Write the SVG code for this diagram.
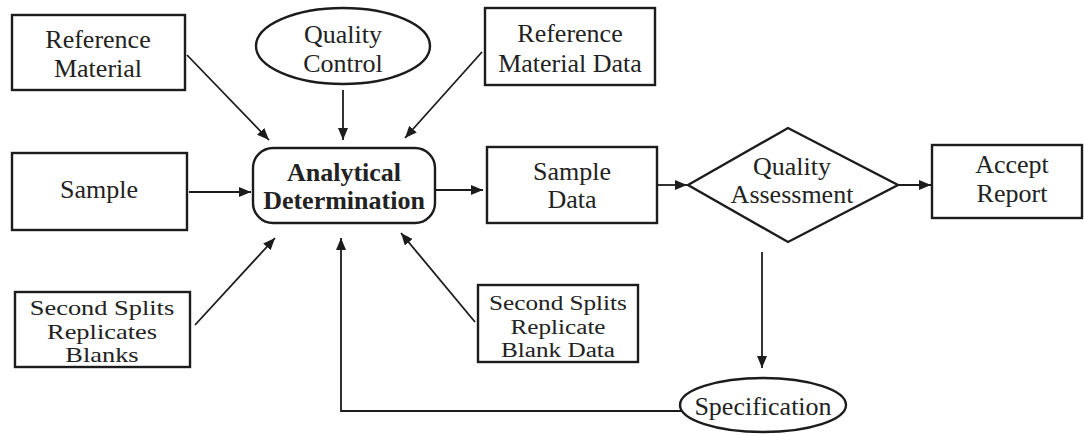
<svg xmlns="http://www.w3.org/2000/svg" width="1084" height="434" viewBox="0 0 1084 434">
  <style>
    .box { fill: #ffffff; stroke: #1c1c1c; stroke-width: 2.4; }
    .lbl { font-family: "Liberation Serif", "Times New Roman", serif; font-size: 26px; fill: #222222; text-anchor: middle; }
    .small { font-size: 24px; }
    .bold { font-weight: bold; }
    .wire { fill: none; stroke: #1c1c1c; stroke-width: 1.8; }
  </style>
  <defs>
    <marker id="arrow" viewBox="0 0 12 10" refX="12" refY="5" markerWidth="12" markerHeight="10" markerUnits="userSpaceOnUse" orient="auto">
      <path d="M0,0 L12,5 L0,10 Z" fill="#1c1c1c"/>
    </marker>
  </defs>
  <rect width="1084" height="434" fill="#ffffff"/>

  <!-- connectors -->
  <g id="connectors">
    <line class="wire" x1="187" y1="55" x2="269" y2="140" marker-end="url(#arrow)"/>
    <line class="wire" x1="343" y1="90" x2="343" y2="140" marker-end="url(#arrow)"/>
    <line class="wire" x1="482" y1="52" x2="405" y2="138" marker-end="url(#arrow)"/>
    <line class="wire" x1="189" y1="192" x2="251" y2="192" marker-end="url(#arrow)"/>
    <line class="wire" x1="436" y1="190" x2="483" y2="190" marker-end="url(#arrow)"/>
    <line class="wire" x1="658" y1="185" x2="687" y2="185" marker-end="url(#arrow)"/>
    <line class="wire" x1="898" y1="185" x2="931" y2="185" marker-end="url(#arrow)"/>
    <line class="wire" x1="762" y1="252" x2="762" y2="368" marker-end="url(#arrow)"/>
    <polyline class="wire" points="681,411 341,411 341,238" marker-end="url(#arrow)"/>
    <line class="wire" x1="195" y1="325" x2="275" y2="238" marker-end="url(#arrow)"/>
    <line class="wire" x1="475" y1="322" x2="401" y2="233" marker-end="url(#arrow)"/>
  </g>

  <g id="reference-material">
    <rect class="box" x="12" y="15" width="173" height="75"/>
    <text class="lbl" x="98" y="48">Reference</text>
    <text class="lbl" x="98" y="77">Material</text>
  </g>

  <g id="quality-control">
    <ellipse class="box" cx="343" cy="46" rx="87" ry="38"/>
    <text class="lbl" x="343" y="43">Quality</text>
    <text class="lbl" x="343" y="72">Control</text>
  </g>

  <g id="reference-material-data">
    <rect class="box" x="485" y="8" width="170" height="77"/>
    <text class="lbl" x="570" y="42">Reference</text>
    <text class="lbl" x="570" y="72">Material Data</text>
  </g>

  <g id="sample">
    <rect class="box" x="12" y="153" width="175" height="77"/>
    <text class="lbl" x="99" y="198">Sample</text>
  </g>

  <g id="analytical-determination">
    <rect class="box" x="253" y="148" width="182" height="75" rx="20" ry="20"/>
    <text class="lbl bold" x="344" y="181">Analytical</text>
    <text class="lbl bold" x="344" y="209">Determination</text>
  </g>

  <g id="sample-data">
    <rect class="box" x="487" y="147" width="170" height="76"/>
    <text class="lbl" x="572" y="180">Sample</text>
    <text class="lbl" x="572" y="208">Data</text>
  </g>

  <g id="quality-assessment">
    <polygon class="box" points="688,185 788,128 898,185 788,242"/>
    <text class="lbl" x="792" y="175">Quality</text>
    <text class="lbl" x="792" y="203">Assessment</text>
  </g>

  <g id="accept-report">
    <rect class="box" x="932" y="145" width="150" height="73"/>
    <text class="lbl" x="1012" y="173">Accept</text>
    <text class="lbl" x="1012" y="202">Report</text>
  </g>

  <!-- three-line labels are set slightly condensed in height so the lines fit the box -->
  <g id="second-splits-blanks">
    <rect class="box" x="15" y="292" width="175" height="75"/>
    <text class="lbl small" transform="translate(102,315) scale(1.1,0.88)">Second Splits</text>
    <text class="lbl small" transform="translate(102,338.5) scale(1.1,0.88)">Replicates</text>
    <text class="lbl small" transform="translate(102,362) scale(1.1,0.88)">Blanks</text>
  </g>

  <g id="second-splits-blank-data">
    <rect class="box" x="478" y="285" width="160" height="77"/>
    <text class="lbl small" transform="translate(558,310) scale(1.05,0.88)">Second Splits</text>
    <text class="lbl small" transform="translate(558,333.5) scale(1.05,0.88)">Replicate</text>
    <text class="lbl small" transform="translate(558,357) scale(1.05,0.88)">Blank Data</text>
  </g>

  <g id="specification">
    <ellipse class="box" cx="763" cy="405" rx="83" ry="27"/>
    <text class="lbl" x="763" y="415">Specification</text>
  </g>
</svg>
